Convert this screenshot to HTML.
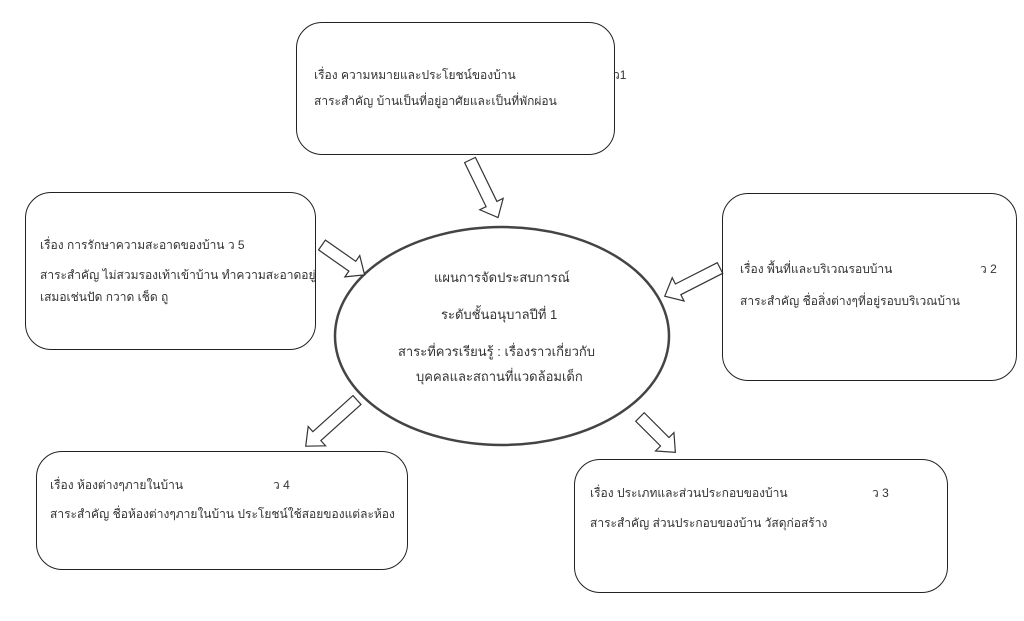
<!DOCTYPE html>
<html><head><meta charset="utf-8"><style>
body{margin:0;width:1024px;height:621px;background:#fff;overflow:hidden;position:relative;font-family:"Liberation Sans","DejaVu Sans",sans-serif;color:#333}
.b{position:absolute;border:1.5px solid #222;border-radius:26px;box-sizing:border-box;font-size:12px}
.t{position:absolute;font-size:12px;white-space:nowrap}
.c{font-size:13px}
svg{position:absolute;left:0;top:0}
</style></head><body>
<svg width="1024" height="621">
<ellipse cx="502" cy="336" rx="167" ry="109" fill="#fff" stroke="#444" stroke-width="2.5"/>
<g fill="#fff" stroke="#333" stroke-width="1.2">
<polygon transform="translate(470,160) rotate(64)" points="0,-6 49,-6 49,-13 64,0 49,13 49,6 0,6"/>
<polygon transform="translate(322,245) rotate(35)" points="0,-6 37,-6 37,-13 52,0 37,13 37,6 0,6"/>
<polygon transform="translate(720,268) rotate(153)" points="0,-6 47,-6 47,-13 62,0 47,13 47,6 0,6"/>
<polygon transform="translate(357,400) rotate(138)" points="0,-6 54,-6 54,-13 69,0 54,13 54,6 0,6"/>
<polygon transform="translate(640,417) rotate(45)" points="0,-6 35,-6 35,-13 50,0 35,13 35,6 0,6"/>
</g>
</svg>
<div class="b" style="left:296px;top:22px;width:319px;height:133px"></div>
<div class="t" style="left:314px;top:66px">เรื่อง ความหมายและประโยชน์ของบ้าน</div>
<div class="t" style="left:613px;top:66px">ว1</div>
<div class="t" style="left:314px;top:92px">สาระสำคัญ บ้านเป็นที่อยู่อาศัยและเป็นที่พักผ่อน</div>

<div class="b" style="left:25px;top:192px;width:291px;height:158px"></div>
<div class="t" style="left:40px;top:236px">เรื่อง การรักษาความสะอาดของบ้าน ว 5</div>
<div class="t" style="left:40px;top:266px">สาระสำคัญ ไม่สวมรองเท้าเข้าบ้าน ทำความสะอาดอยู่</div>
<div class="t" style="left:40px;top:288px">เสมอเช่นปัด กวาด เช็ด ถู</div>

<div class="b" style="left:722px;top:193px;width:295px;height:188px"></div>
<div class="t" style="left:740px;top:260px">เรื่อง พื้นที่และบริเวณรอบบ้าน</div>
<div class="t" style="left:980px;top:260px">ว 2</div>
<div class="t" style="left:740px;top:292px">สาระสำคัญ ชื่อสิ่งต่างๆที่อยู่รอบบริเวณบ้าน</div>

<div class="b" style="left:36px;top:451px;width:372px;height:119px"></div>
<div class="t" style="left:50px;top:476px">เรื่อง ห้องต่างๆภายในบ้าน</div>
<div class="t" style="left:273px;top:476px">ว 4</div>
<div class="t" style="left:50px;top:505px">สาระสำคัญ ชื่อห้องต่างๆภายในบ้าน ประโยชน์ใช้สอยของแต่ละห้อง</div>

<div class="b" style="left:574px;top:459px;width:374px;height:134px"></div>
<div class="t" style="left:590px;top:484px">เรื่อง ประเภทและส่วนประกอบของบ้าน</div>
<div class="t" style="left:872px;top:484px">ว 3</div>
<div class="t" style="left:590px;top:514px">สาระสำคัญ ส่วนประกอบของบ้าน วัสดุก่อสร้าง</div>

<div class="t c" style="left:434px;top:267px">แผนการจัดประสบการณ์</div>
<div class="t c" style="left:441px;top:304px">ระดับชั้นอนุบาลปีที่ 1</div>
<div class="t c" style="left:398px;top:341px">สาระที่ควรเรียนรู้ : เรื่องราวเกี่ยวกับ</div>
<div class="t c" style="left:416px;top:366px">บุคคลและสถานที่แวดล้อมเด็ก</div>
</body></html>
